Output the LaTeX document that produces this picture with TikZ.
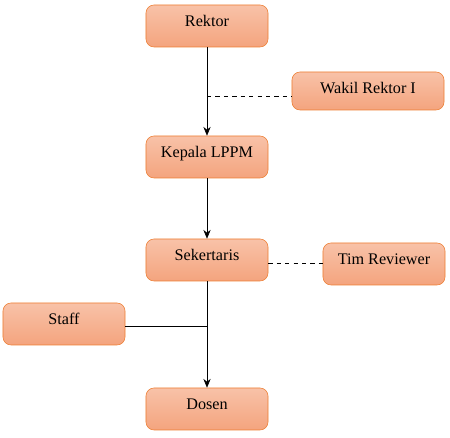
\documentclass[tikz,border=0pt]{standalone}
\usepackage{fontspec}
\setmainfont{Liberation Serif}
\usepackage{tikz}
\usetikzlibrary{positioning,arrows.meta,calc}
\definecolor{boxtop}{HTML}{F8C2A8}
\definecolor{boxbot}{HTML}{F4A47E}
\definecolor{boxline}{HTML}{ED7D31}

\begin{document}
\begin{tikzpicture}[x=0.025cm, y=-0.025cm,
  font=\fontsize{11.5}{13}\selectfont, >={Stealth[length=2.2mm, width=1.8mm]},
  b/.style={draw=boxline, thin, rounded corners=2mm, top color=boxtop, bottom color=boxbot,
    minimum width=3.05cm, minimum height=1.05cm, inner sep=2pt, text height=0.27cm, text depth=0.26cm},
  w/.style={b, minimum width=3.8cm, minimum height=0.95cm, text depth=0.14cm}]
\useasboundingbox (0,0) rectangle (450,438);
\node[b] (rk) at (207,26) {Rektor};
\node[w] (wr) at (368,91) {Wakil Rektor I};
\node[b] (kp) at (207,157) {Kepala LPPM};
\node[b] (sk) at (207,260) {Sekertaris};
\node[b] (tr) at (384,264) {Tim Reviewer};
\node[b] (st) at (64,324) {Staff};
\node[b] (ds) at (207,409) {Dosen};
\coordinate (j1) at (207,96);
\coordinate (j2) at (207,263);
\coordinate (j3) at (207,326);
\draw[->] (rk) -- (kp); \draw[->] (kp) -- (sk); \draw[->] (sk) -- (ds);
\draw[dashed] (j1) -- (wr.west |- j1);
\draw[dashed] (sk.east |- j2) -- (tr.west |- j2);
\draw (st.east |- j3) -- (j3);
\end{tikzpicture}
\end{document}
